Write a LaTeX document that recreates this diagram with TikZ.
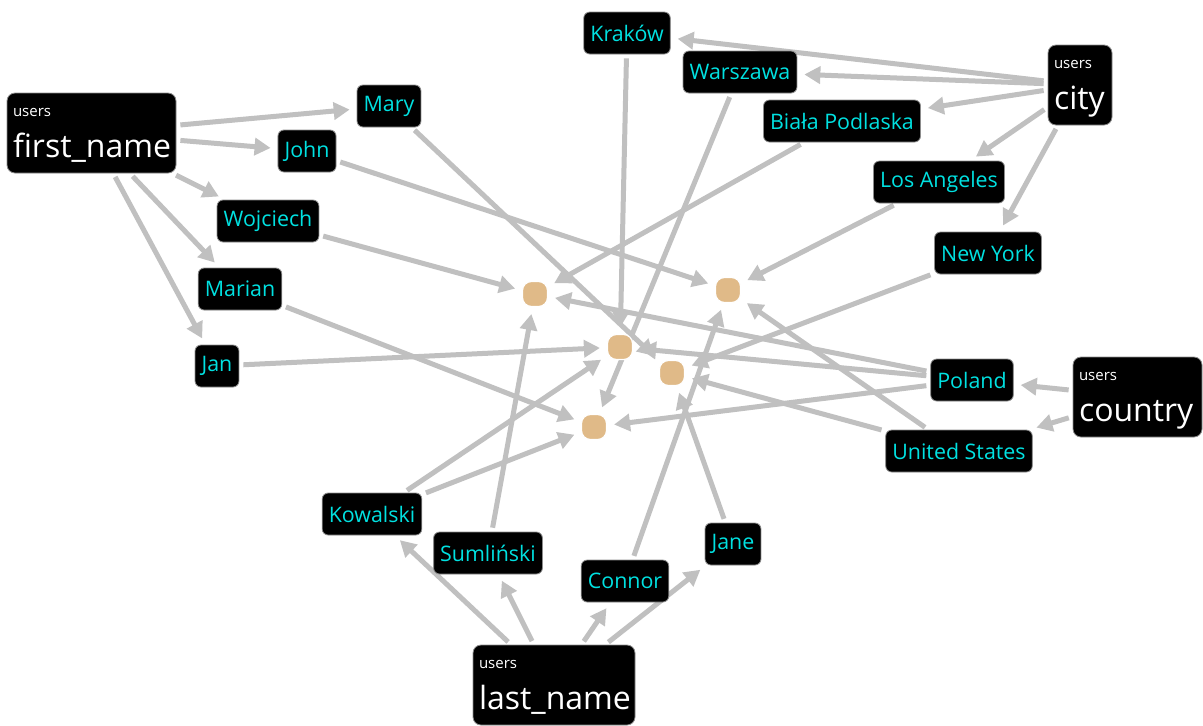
\documentclass[tikz,border=0pt]{standalone}
\usepackage{fontspec}
\setmainfont{Open Sans}
\usetikzlibrary{arrows.meta,backgrounds}
\definecolor{edgegray}{RGB}{192,192,192}
\definecolor{valcyan}{RGB}{0,225,225}
\definecolor{rowtan}{RGB}{224,186,136}
\begin{document}
\begin{tikzpicture}[x=0.5pt,y=-0.5pt,
  val/.style={rectangle, rounded corners=3pt, fill=black, draw=black!45, line width=0.4pt,
    text=valcyan, font=\fontsize{10.7}{12}\selectfont, inner xsep=3.3pt, inner ysep=0pt,
    minimum height=21pt},
  tbl/.style={rectangle, rounded corners=4pt, fill=black, draw=black!45, line width=0.4pt,
    minimum height=40pt, inner sep=0pt},
  schema/.style={text=white, font=\fontsize{7.5}{9}\selectfont, anchor=base west, inner sep=0pt},
  colname/.style={text=white, font=\fontsize{16}{19}\selectfont, anchor=base west, inner sep=0pt},
  row/.style={rectangle, rounded corners=4.5pt, fill=rowtan, draw=white, line width=0.6pt,
    minimum size=12.5pt, inner sep=0pt},
  link/.style={draw=edgegray, line width=2.5pt, -{Triangle[length=8pt,width=8.5pt]},
    shorten >=3.5pt, shorten <=2pt},
]
\useasboundingbox (0,0) rectangle (1203,725);

% column boxes
\node[tbl, minimum width=84.5pt] (fn) at (91.5,133) {};
\node[schema] (fn-s) at ([xshift=3pt,yshift=-12pt]fn.north west) {users};
\node[colname] (fn-c) at ([xshift=3pt,yshift=-32.5pt]fn.north west) {first\_name};

\node[tbl, minimum width=32pt] (ci) at (1080,85) {};
\node[schema] (ci-s) at ([xshift=3pt,yshift=-12pt]ci.north west) {users};
\node[colname] (ci-c) at ([xshift=3pt,yshift=-32.5pt]ci.north west) {city};

\node[tbl, minimum width=64.5pt] (co) at (1137.5,397) {};
\node[schema] (co-s) at ([xshift=3pt,yshift=-12pt]co.north west) {users};
\node[colname] (co-c) at ([xshift=3pt,yshift=-32.5pt]co.north west) {country};

\node[tbl, minimum width=81pt] (ln) at (554,685) {};
\node[schema] (ln-s) at ([xshift=3pt,yshift=-12pt]ln.north west) {users};
\node[colname] (ln-c) at ([xshift=3pt,yshift=-32.5pt]ln.north west) {last\_name};

% values
\node[val] (mary) at (389,106) {Mary};
\node[val] (john) at (307,151) {John};
\node[val] (wojc) at (268,221) {Wojciech};
\node[val] (mari) at (240,289) {Marian};
\node[val] (jan)  at (217,366) {Jan};
\node[val] (krak) at (627,33) {Kraków};
\node[val] (wars) at (740,72) {Warszawa};
\node[val] (bial) at (842,121) {Biała Podlaska};
\node[val] (losa) at (939,182) {Los Angeles};
\node[val] (newy) at (988,253) {New York};
\node[val] (pol)  at (972,380) {Poland};
\node[val] (us)   at (959,451) {United States};
\node[val] (kowa) at (372,514) {Kowalski};
\node[val] (suml) at (488,553) {Sumliński};
\node[val] (conn) at (625,581) {Connor};
\node[val] (jane) at (733,544) {Jane};

% rows
\node[row] (r1) at (535,294) {};
\node[row] (r2) at (728,290) {};
\node[row] (r3) at (620,347) {};
\node[row] (r4) at (672,373) {};
\node[row] (r5) at (594,427) {};

\begin{pgfonlayer}{background}
  \fill[white] (0,0) rectangle (1203,725);
  % column to value
  \draw[link] (fn) -- (mary);
  \draw[link] (fn) -- (john);
  \draw[link] (fn) -- (wojc);
  \draw[link] (fn) -- (mari);
  \draw[link] (fn) -- (jan);
  \draw[link] (ci) -- (krak);
  \draw[link] (ci) -- (wars);
  \draw[link] (ci) -- (bial);
  \draw[link] (ci) -- (losa);
  \draw[link] (ci) -- (newy);
  \draw[link] (co) -- (pol);
  \draw[link] (co) -- (us);
  \draw[link] (ln) -- (kowa);
  \draw[link] (ln) -- (suml);
  \draw[link] (ln) -- (conn);
  \draw[link] (ln) -- (jane);
  % value to row
  \draw[link] (wojc) -- (r1);
  \draw[link] (suml) -- (r1);
  \draw[link] (bial) -- (r1);
  \draw[link] (pol) -- (r1);
  \draw[link] (john) -- (r2);
  \draw[link] (conn) -- (r2);
  \draw[link] (losa) -- (r2);
  \draw[link] (us) -- (r2);
  \draw[link] (jan) -- (r3);
  \draw[link] (kowa) -- (r3);
  \draw[link] (krak) -- (r3);
  \draw[link] (pol) -- (r3);
  \draw[link] (mary) -- (r4);
  \draw[link] (jane) -- (r4);
  \draw[link] (newy) -- (r4);
  \draw[link] (us) -- (r4);
  \draw[link] (mari) -- (r5);
  \draw[link] (kowa) -- (r5);
  \draw[link] (wars) -- (r5);
  \draw[link] (pol) -- (r5);
\end{pgfonlayer}
\end{tikzpicture}
\end{document}
